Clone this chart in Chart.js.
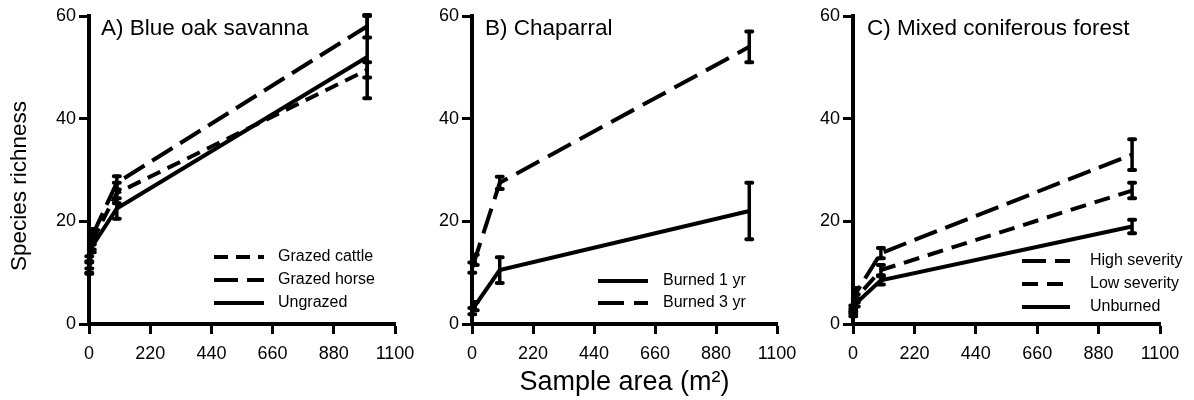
<!DOCTYPE html>
<html><head><meta charset="utf-8">
<script src="https://cdn.jsdelivr.net/npm/chart.js@4.4.1/dist/chart.umd.min.js"></script>
<style>
html,body{margin:0;padding:0;background:#fff;}
#wrap{position:relative;width:1194px;height:400px;background:#fff;}
canvas{position:absolute;left:0;top:0;}
</style></head><body>
<div id="wrap">
<canvas id="cA" width="1194" height="400"></canvas>
<canvas id="cB" width="1194" height="400"></canvas>
<canvas id="cC" width="1194" height="400"></canvas>
</div>
<script>
// ---- data ----
const areas = [1, 10, 100, 1000];
const xTicks = [0, 220, 440, 660, 880, 1100];
const yTicks = [0, 20, 40, 60];

// A) Blue oak savanna
const grazedCattle = [12, 16, 25.5, 49.5];
const grazedCattleErr = [1.2, 1.5, 2, 1.5];
const grazedHorse = [11, 17, 27.5, 58];
const grazedHorseErr = [1, 1.5, 1.3, 2.2];
const ungrazed = [11, 15, 22.5, 52];
const ungrazedErr = [1.2, 1, 2, 8];

// B) Chaparral
const burned1 = [2.5, 3.5, 10.5, 22];
const burned1Err = [0.6, 0.8, 2.5, 5.5];
const burned3 = [11, 12.5, 27.5, 54];
const burned3Err = [1, 1, 1.2, 3];

// C) Mixed coniferous forest
const highSev = [3, 6, 13.8, 33];
const highSevErr = [0.6, 1, 1, 3];
const lowSev = [2.5, 5, 10.5, 26];
const lowSevErr = [0.5, 0.8, 1, 1.5];
const unburned = [2, 4, 8.5, 19];
const unburnedErr = [0.5, 0.6, 0.8, 1.3];

const FONT = '"Liberation Sans", Arial, sans-serif';
Chart.defaults.font.family = FONT;
Chart.defaults.color = '#000';

const pts = (arr) => arr.map((v, i) => ({x: areas[i], y: v}));

function ds(label, vals, err, dash) {
  return {
    label, data: pts(vals), err, borderDash: dash || [],
    borderColor: '#000', backgroundColor: '#000', borderWidth: 4,
    pointRadius: 0, tension: 0, fill: false, clip: false
  };
}

const errorBars = {
  id: 'errorBars',
  afterDatasetsDraw(chart) {
    const {ctx} = chart; const x = chart.scales.x, y = chart.scales.y;
    ctx.save();
    ctx.strokeStyle = '#000'; ctx.lineCap = 'round';
    chart.data.datasets.forEach(d => {
      d.data.forEach((p, i) => {
        const e = d.err[i];
        const px = x.getPixelForValue(p.x);
        const y1 = y.getPixelForValue(p.y - e), y2 = y.getPixelForValue(p.y + e);
        ctx.lineWidth = 3.5;
        ctx.beginPath(); ctx.moveTo(px, y1); ctx.lineTo(px, y2); ctx.stroke();
        ctx.lineWidth = 4;
        ctx.beginPath();
        ctx.moveTo(px - 3, y1); ctx.lineTo(px + 3, y1);
        ctx.moveTo(px - 3, y2); ctx.lineTo(px + 3, y2);
        ctx.stroke();
      });
    });
    ctx.restore();
  }
};

const panelDecor = {
  id: 'panelDecor',
  afterDraw(chart, args, o) {
    const {ctx, chartArea} = chart;
    ctx.save();
    ctx.fillStyle = '#000';
    ctx.textBaseline = 'middle';
    ctx.font = '22.5px ' + FONT;
    ctx.fillText(o.title, chartArea.left + o.titleDx, chartArea.top + o.titleDy);
    if (o.yTitle) {
      ctx.save();
      ctx.font = '22.5px ' + FONT;
      ctx.textAlign = 'center';
      ctx.translate(o.yTitleX, o.yTitleY);
      ctx.rotate(-Math.PI / 2);
      ctx.fillText(o.yTitle, 0, 0);
      ctx.restore();
    }
    ctx.font = '16px ' + FONT;
    o.order.forEach((di, row) => {
      const d = chart.data.datasets[di];
      const yy = chartArea.bottom - o.legY0 + row * o.legGap;
      const x0 = chartArea.right - o.legX;
      ctx.strokeStyle = '#000'; ctx.lineWidth = 4;
      ctx.setLineDash(d.borderDash);
      ctx.beginPath(); ctx.moveTo(x0, yy); ctx.lineTo(x0 + o.legLen, yy); ctx.stroke();
      ctx.setLineDash([]);
      ctx.fillText(d.label, x0 + o.legText, yy);
    });
    ctx.restore();
  }
};

function makeChart(id, p) {
  return new Chart(document.getElementById(id), {
    type: 'line',
    data: {datasets: p.datasets},
    plugins: [errorBars, panelDecor],
    options: {
      responsive: false, animation: false, devicePixelRatio: 1,
      layout: {padding: {left: p.padLeft, right: p.padRight, top: 16, bottom: 0}},
      plugins: {legend: {display: false}, tooltip: {enabled: false}, title: {display: false},
        panelDecor: p.decor},
      scales: {
        x: {
          type: 'linear', min: 0, max: 1100,
          afterBuildTicks: s => { s.ticks = xTicks.map(v => ({value: v})); },
          afterFit: s => { s.height = 76; },
          grid: {drawOnChartArea: false, drawTicks: true, tickLength: 10, tickWidth: 3, tickColor: '#000'},
          border: {display: true, color: '#000', width: 4},
          ticks: {font: {size: 18}, color: '#000', padding: 9, maxRotation: 0, callback: v => String(v)},
          title: {display: !!p.xTitle, text: p.xTitle || '', font: {size: 27}, color: '#000', padding: {top: 0, bottom: 1}}
        },
        y: {
          type: 'linear', min: 0, max: 60,
          afterBuildTicks: s => { s.ticks = yTicks.map(v => ({value: v})); },
          afterFit: s => { s.width = p.yWidth; },
          grid: {drawOnChartArea: false, drawTicks: true, tickLength: 10, tickWidth: 3, tickColor: '#000'},
          border: {display: true, color: '#000', width: 4},
          ticks: {font: {size: 18}, color: '#000', padding: 3, callback: v => String(v)},
          title: {display: false}
        }
      }
    }
  });
}

makeChart('cA', {
  padLeft: 0, padRight: 1194 - 395, yWidth: 89,
  datasets: [
    ds('Grazed cattle', grazedCattle, grazedCattleErr, [14, 8]),
    ds('Grazed horse', grazedHorse, grazedHorseErr, [24, 9]),
    ds('Ungrazed', ungrazed, ungrazedErr, [])
  ],
  decor: {title: 'A) Blue oak savanna', titleDx: 12, titleDy: 13,
    yTitle: 'Species richness', yTitleX: 20, yTitleY: 186,
    order: [0, 1, 2], legY0: 67, legGap: 23, legX: 181, legLen: 50, legText: 64}
});

makeChart('cB', {
  padLeft: 472 - 60, padRight: 1194 - 777, yWidth: 60, xTitle: 'Sample area (m²)',
  datasets: [
    ds('Burned 1 yr', burned1, burned1Err, []),
    ds('Burned 3 yr', burned3, burned3Err, [26, 10])
  ],
  decor: {title: 'B) Chaparral', titleDx: 13, titleDy: 13,
    order: [0, 1], legY0: 43, legGap: 22, legX: 179, legLen: 50, legText: 65}
});

makeChart('cC', {
  padLeft: 853 - 60, padRight: 1194 - 1160, yWidth: 60,
  datasets: [
    ds('High severity', highSev, highSevErr, [24, 9]),
    ds('Low severity', lowSev, lowSevErr, [16, 9]),
    ds('Unburned', unburned, unburnedErr, [])
  ],
  decor: {title: 'C) Mixed coniferous forest', titleDx: 14, titleDy: 13,
    order: [0, 1, 2], legY0: 63, legGap: 23, legX: 138, legLen: 48, legText: 68}
});
</script>
</body></html>
